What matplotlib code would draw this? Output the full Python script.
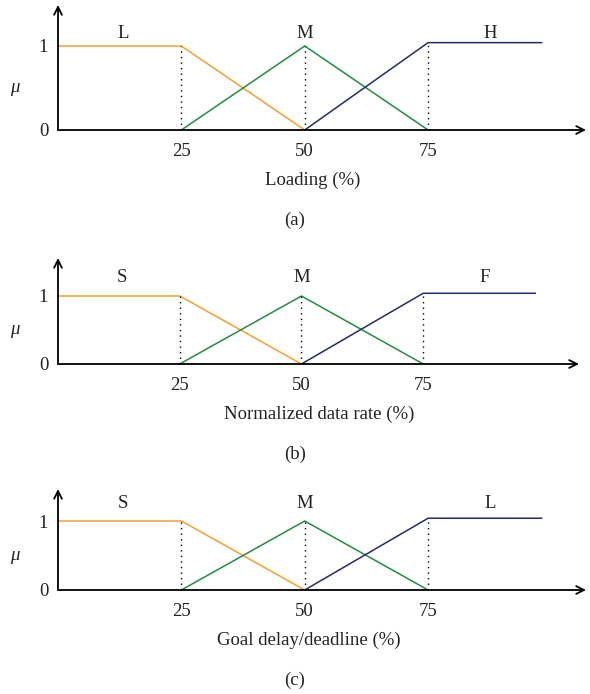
import matplotlib
matplotlib.use("Agg")
import matplotlib.pyplot as plt

plt.rcParams['font.family'] = ['Liberation Serif', 'DejaVu Serif']

# membership functions (x in %, mu)
low_x = [0, 25, 50]
low_y = [1, 1, 0]
mid_x = [25, 50, 75]
mid_y = [0, 1, 0]
high_x = [50, 75, 98]
high_y = [0, 1.04, 1.04]

xticks = [25, 50, 75]
yticks = [0, 1]

panels = [
    # (labels, xlabel, tag)
    (["L", "M", "H"], "Loading (%)", "(a)"),
    (["S", "M", "F"], "Normalized data rate (%)", "(b)"),
    (["S", "M", "L"], "Goal delay/deadline (%)", "(c)"),
]

W, H = 590, 694
# pixel geometry per panel: baseline y, arrow top y, label y, px per unit y,
# axes width, x-label centre
geom = [(130, 5, 33, 84, 528, 313),
        (364, 258, 277, 68, 521, 319),
        (590, 489, 503, 69, 528, 309)]
label_x = [13.2, 50, 87.6]

orange = "#F5A030"
green = "#238B45"
navy = "#252B68"
txt = "#222222"
fs = 13.5

fig = plt.figure(figsize=(W / 100, H / 100), dpi=100)

for (names, xlab, tag), (yb, yt, yl, scale, aw, xc) in zip(panels, geom):
    ax = fig.add_axes([58 / W, 1 - yb / H, aw / W, (yb - yt) / H])
    ymax = (yb - yt) / scale
    ax.set_xlim(0, 107)
    ax.set_ylim(0, ymax)
    for s in ax.spines.values():
        s.set_visible(False)
    ax.patch.set_alpha(0)

    ax.plot(low_x, low_y, color=orange, lw=1.1)
    ax.plot(mid_x, mid_y, color=green, lw=1.1)
    ax.plot(high_x, high_y, color=navy, lw=1.1)

    ax.vlines(25, 0, 1, colors="black", linestyles=(0, (1, 3)), lw=1)
    ax.vlines(50, 0, 1, colors="black", linestyles=(0, (1, 3)), lw=1)
    ax.vlines(75, 0, 1.04, colors="black", linestyles=(0, (1, 3)), lw=1)

    ax.annotate("", xy=(107, 0), xytext=(0, 0),
                arrowprops=dict(arrowstyle="->", lw=1.3, color="black",
                                shrinkA=0, shrinkB=0, mutation_scale=14),
                annotation_clip=False)
    ax.annotate("", xy=(0, ymax), xytext=(0, 0),
                arrowprops=dict(arrowstyle="->", lw=1.3, color="black",
                                shrinkA=0, shrinkB=0, mutation_scale=14),
                annotation_clip=False)

    ax.set_xticks(xticks)
    ax.set_xticklabels([str(t) for t in xticks])
    ax.set_yticks(yticks)
    ax.set_yticklabels([str(t) for t in yticks])
    ax.tick_params(length=0, labelsize=fs, colors=txt)
    ax.tick_params(axis="x", pad=9)
    ax.tick_params(axis="y", pad=7)

    ly = (yb - yl) / scale
    for n, lx in zip(names, label_x):
        ax.text(lx, ly, n, ha="center", va="center", fontsize=fs, color=txt)

    ax.text(-8.8, 0.5, "μ", ha="center", va="center", fontsize=fs,
            style="italic", color=txt)

    fig.text(xc / W, 1 - (yb + 50) / H, xlab, ha="center", va="center",
             fontsize=fs, color=txt)
    fig.text(295 / W, 1 - (yb + 90) / H, tag, ha="center", va="center",
             fontsize=fs, color=txt)

fig.savefig("out.png", dpi=100)
